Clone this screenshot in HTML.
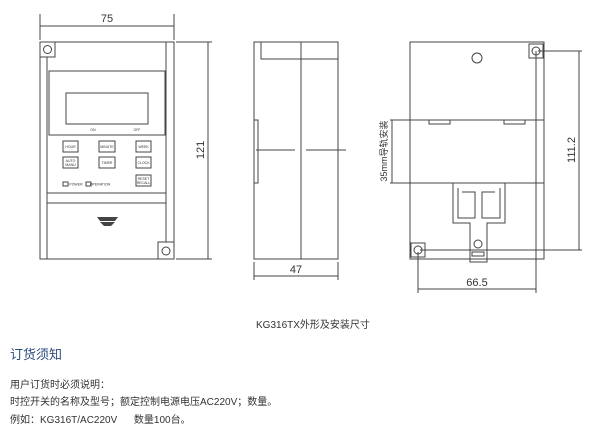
<!DOCTYPE html>
<html><head><meta charset="utf-8"><style>
body{margin:0;background:#fff;width:600px;height:437px;overflow:hidden;font-family:"Liberation Sans","Noto Sans CJK SC",sans-serif}
.t{position:absolute;white-space:nowrap;color:#333}
</style></head><body>
<svg width="600" height="437" style="position:absolute;left:0;top:0" font-family="Liberation Sans, sans-serif">
<g fill="none" stroke="#444" stroke-width="1">
<!-- front view -->
<rect x="40" y="42" width="134" height="217"/>
<line x1="47" y1="57" x2="47" y2="259"/>
<line x1="166" y1="42" x2="166" y2="242"/>
<path d="M40 57 H55 V42"/><circle cx="47.5" cy="49.5" r="4"/>
<path d="M158 259 V242 H174"/><circle cx="166" cy="251" r="4"/>
<rect x="49" y="71" width="116" height="64"/>
<rect x="66" y="93" width="82" height="31"/>
<rect x="63" y="141" width="15" height="11"/><rect x="99" y="141" width="16" height="11"/><rect x="136" y="141" width="15" height="11"/>
<rect x="63" y="157" width="15" height="11"/><rect x="99" y="157" width="16" height="11"/><rect x="136" y="157" width="15" height="11"/>
<rect x="136" y="175" width="15" height="11"/>
<rect x="63" y="182" width="5" height="4"/><rect x="86" y="182" width="5" height="4"/>
<line x1="47" y1="193" x2="166" y2="193"/><line x1="47" y1="203" x2="166" y2="203"/>
<!-- dims front -->
<line x1="40" y1="14" x2="40" y2="40"/><line x1="174" y1="14" x2="174" y2="40"/>
<line x1="40" y1="26" x2="174" y2="26"/>
<line x1="176" y1="42" x2="212" y2="42"/><line x1="176" y1="259" x2="212" y2="259"/>
<line x1="208" y1="42" x2="208" y2="259"/>
<!-- side view -->
<rect x="254" y="42" width="84" height="217"/>
<line x1="301" y1="42" x2="301" y2="259"/>
<path d="M261 42 V59 H338"/>
<path d="M254 120 H258 V183 H254" />
<line x1="256" y1="150" x2="295" y2="150"/><line x1="306" y1="150" x2="346" y2="150"/>
<line x1="254" y1="262" x2="254" y2="280"/><line x1="338" y1="262" x2="338" y2="280"/>
<line x1="254" y1="276" x2="338" y2="276"/>
<!-- back view -->
<rect x="410" y="42" width="134" height="217"/>
<line x1="410" y1="120" x2="544" y2="120"/><line x1="410" y1="183" x2="544" y2="183"/>
<rect x="429" y="120" width="21" height="4"/><rect x="504" y="120" width="21" height="4"/>
<circle cx="477" cy="58" r="5"/>
<rect x="529" y="44" width="14" height="14"/><circle cx="536" cy="51" r="4"/>
<rect x="411" y="243" width="14" height="14"/><circle cx="418" cy="250" r="4"/>
<path d="M453 183 V223 H470 V262 H487 V223 H505 V183"/>
<path d="M458 188 V218 H475 V192 H462 M500 188 V218 H482 V192 H495"/>
<circle cx="478" cy="244" r="4"/><rect x="472" y="252" width="12" height="4"/>
<line x1="536" y1="51" x2="536" y2="293"/><line x1="418" y1="252" x2="418" y2="293"/>
<line x1="418" y1="289" x2="536" y2="289"/>
<line x1="538" y1="51" x2="582" y2="51"/><line x1="420" y1="250" x2="582" y2="250"/>
<line x1="579" y1="51" x2="579" y2="250"/>
<line x1="390" y1="120" x2="410" y2="120"/><line x1="390" y1="183" x2="410" y2="183"/>
<line x1="392" y1="120" x2="392" y2="183"/>
</g>
<path d="M97 217 H118 L115 221 H100 Z M100 222 H115 L111 226 H104 Z" fill="#444"/>
<g font-size="11" fill="#333" text-anchor="middle">
<text x="107" y="22">75</text>
<text x="296" y="273">47</text>
<text x="477" y="286">66.5</text>
<text transform="translate(204,150) rotate(-90)">121</text>
<text transform="translate(575,150) rotate(-90)">111.2</text>
<text transform="translate(387,151) rotate(-90)" font-size="9" font-family="Liberation Sans, Noto Sans CJK SC, sans-serif">35mm导轨安装</text>
</g>
<g font-size="3.5" fill="#333" text-anchor="middle">
<text x="93" y="131">ON</text><text x="137" y="131">OFF</text>
<text x="70.5" y="148">HOUR</text><text x="107" y="148">MINUTE</text><text x="143.5" y="148">WEEK</text>
<text x="70.5" y="162">AUTO</text><text x="70.5" y="166">MANU</text><text x="107" y="164">TIMER</text><text x="143.5" y="164">CLOCK</text>
<text x="143.5" y="180">RESET</text><text x="143.5" y="184">RECALL</text>
<text x="76" y="185.5">POWER</text><text x="100" y="185.5">OPERATION</text>
</g>
</svg>
<div class="t" style="left:256px;top:316px;font-size:10px">KG316TX外形及安装尺寸</div>
<div class="t" style="left:10px;top:344px;font-size:13px;color:#2b4a7d">订货须知</div>
<div class="t" style="left:10px;top:376px;font-size:10px">用户订货时必须说明：</div>
<div class="t" style="left:10px;top:393px;font-size:10px">时控开关的名称及型号；额定控制电源电压AC220V；数量。</div>
<div class="t" style="left:10px;top:411px;font-size:10px">例如：KG316T/AC220V&nbsp;&nbsp;&nbsp;&nbsp;&nbsp;&nbsp;数量100台。</div>
</body></html>
